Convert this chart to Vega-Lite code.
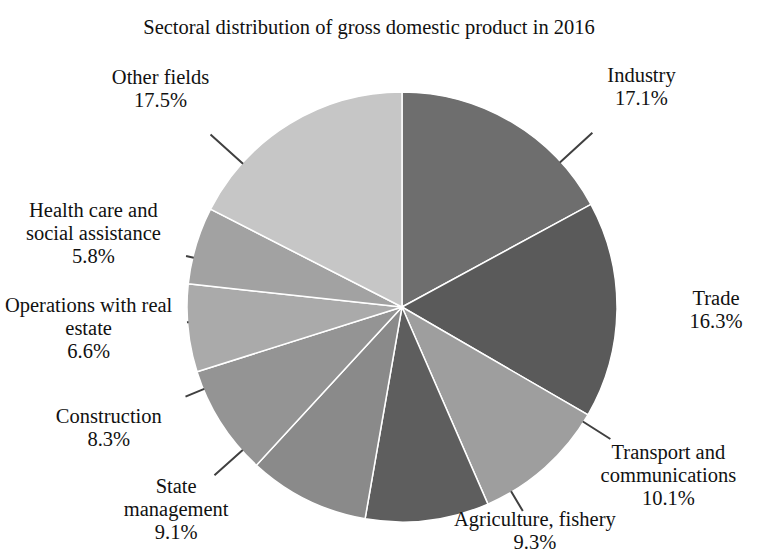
{
  "$schema": "https://vega.github.io/schema/vega-lite/v6.json",
  "autosize": {"type": "none"},
  "width": 724,
  "height": 494,
  "padding": {"left": 40, "top": 60, "right": 0, "bottom": 0},
  "background": "white",
  "title": {
    "text": "Sectoral distribution of gross domestic product in 2016",
    "font": "Liberation Serif",
    "fontSize": 20.5,
    "fontWeight": "normal",
    "color": "#111111",
    "anchor": "middle",
    "frame": "group",
    "dx": -33,
    "offset": 6,
    "baseline": "alphabetic"
  },
  "data": {
    "values": [
      {"rank": 1, "sector": "Industry", "value": 17.1, "label": "Industry\n17.1%"},
      {"rank": 2, "sector": "Trade", "value": 16.3, "label": "Trade\n16.3%"},
      {"rank": 3, "sector": "Transport and communications", "value": 10.1, "label": "Transport and\ncommunications\n10.1%"},
      {"rank": 4, "sector": "Agriculture, fishery", "value": 9.3, "label": "Agriculture, fishery\n9.3%"},
      {"rank": 5, "sector": "State management", "value": 9.1, "label": "State\nmanagement\n9.1%"},
      {"rank": 6, "sector": "Construction", "value": 8.3, "label": "Construction\n8.3%"},
      {"rank": 7, "sector": "Operations with real estate", "value": 6.6, "label": "Operations with real\nestate\n6.6%"},
      {"rank": 8, "sector": "Health care and social assistance", "value": 5.8, "label": "Health care and\nsocial assistance\n5.8%"},
      {"rank": 9, "sector": "Other fields", "value": 17.5, "label": "Other fields\n17.5%"}
    ]
  },
  "encoding": {
    "theta": {"field": "value", "type": "quantitative", "stack": true},
    "order": {"field": "rank", "type": "quantitative"}
  },
  "layer": [
    {
      "mark": {"type": "arc", "radius": 215, "stroke": "white", "strokeWidth": 1.5},
      "encoding": {
        "color": {
          "field": "sector",
          "type": "nominal",
          "scale": {
            "domain": ["Industry", "Trade", "Transport and communications", "Agriculture, fishery", "State management", "Construction", "Operations with real estate", "Health care and social assistance", "Other fields"],
            "range": ["#6e6e6e", "#5a5a5a", "#9e9e9e", "#5e5e5e", "#8a8a8a", "#949494", "#aaaaaa", "#a2a2a2", "#c6c6c6"]
          },
          "legend": null
        }
      }
    },
    {
      "mark": {
        "type": "arc",
        "radius2": 214,
        "padAngle": 2,
        "filled": false,
        "stroke": "#404040",
        "strokeWidth": 2,
        "radius": {"expr": "214+0.5*pow(abs(cos(scale('theta',(datum.value_start+datum.value_end)/2))),1.5)*(sqrt(pow(314*(sin(scale('theta',(datum.value_start+datum.value_end)/2))<0?-1:1)*pow(abs(sin(scale('theta',(datum.value_start+datum.value_end)/2))),0.404),2)+pow((cos(scale('theta',(datum.value_start+datum.value_end)/2))>0?255:226)*cos(scale('theta',(datum.value_start+datum.value_end)/2)),2))-214)"},
        "thetaOffset": {"expr": "atan2(314*(sin(scale('theta',(datum.value_start+datum.value_end)/2))<0?-1:1)*pow(abs(sin(scale('theta',(datum.value_start+datum.value_end)/2))),0.404),(cos(scale('theta',(datum.value_start+datum.value_end)/2))>0?255:226)*cos(scale('theta',(datum.value_start+datum.value_end)/2)))-scale('theta',(datum.value_start+datum.value_end)/2)"},
        "theta2Offset": {"expr": "atan2(314*(sin(scale('theta',(datum.value_start+datum.value_end)/2))<0?-1:1)*pow(abs(sin(scale('theta',(datum.value_start+datum.value_end)/2))),0.404),(cos(scale('theta',(datum.value_start+datum.value_end)/2))>0?255:226)*cos(scale('theta',(datum.value_start+datum.value_end)/2)))-scale('theta',(datum.value_start+datum.value_end)/2)"}
      },
      "encoding": {}
    },
    {
      "mark": {
        "type": "text",
        "font": "Liberation Serif",
        "fontSize": 20.5,
        "lineHeight": 23,
        "lineBreak": "\n",
        "color": "#111111",
        "align": "center",
        "baseline": "middle",
        "dy": {"expr": "-(length(split(datum.label,'\\n'))-1)*11.5"},
        "radius": {"expr": "sqrt(pow(314*(sin(scale('theta',(datum.value_start+datum.value_end)/2))<0?-1:1)*pow(abs(sin(scale('theta',(datum.value_start+datum.value_end)/2))),0.404),2)+pow((cos(scale('theta',(datum.value_start+datum.value_end)/2))>0?255:226)*cos(scale('theta',(datum.value_start+datum.value_end)/2)),2))"},
        "thetaOffset": {"expr": "atan2(314*(sin(scale('theta',(datum.value_start+datum.value_end)/2))<0?-1:1)*pow(abs(sin(scale('theta',(datum.value_start+datum.value_end)/2))),0.404),(cos(scale('theta',(datum.value_start+datum.value_end)/2))>0?255:226)*cos(scale('theta',(datum.value_start+datum.value_end)/2)))-scale('theta',(datum.value_start+datum.value_end)/2)"}
      },
      "encoding": {"text": {"field": "label"}}
    }
  ],
  "config": {"view": {"stroke": null}}
}
